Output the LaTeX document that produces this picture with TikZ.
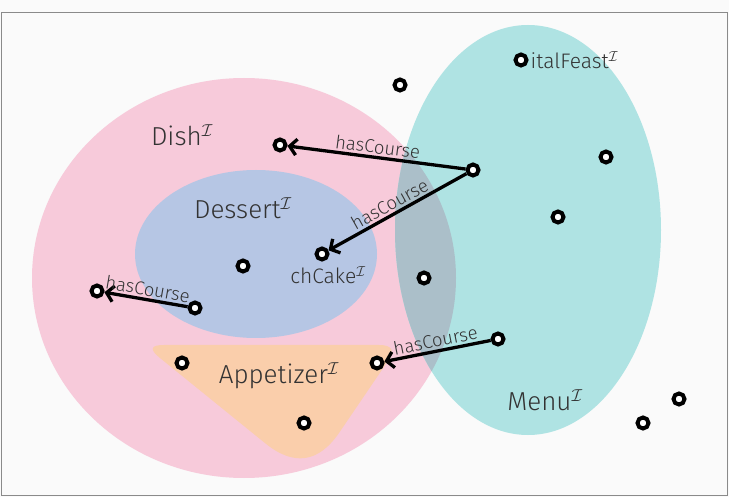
\documentclass[tikz,border=0pt]{standalone}
\usepackage{fontspec}
\setmainfont{Fira Sans Light}
\usetikzlibrary{arrows.meta,positioning}
\definecolor{bg}{HTML}{FAFAFA}
\definecolor{frame}{HTML}{8A8A8A}
\definecolor{dishc}{HTML}{F7CADA}
\definecolor{dessertc}{HTML}{B6C6E4}
\definecolor{appc}{HTML}{FACEAB}
\definecolor{menuc}{HTML}{AFE3E3}
\definecolor{mixc}{HTML}{ABBFC9}
\definecolor{txt}{HTML}{333333}
\tikzset{ind/.style={circle,draw=black,fill=white,line width=4pt,minimum size=11pt,inner sep=0pt},
  rel/.style={line width=3.3pt,-{Straight Barb[length=7pt,width=16pt]}},
  cls/.style={text=txt,font=\fontsize{26}{30}\selectfont},
  rlab/.style={text=txt,font=\fontsize{18.5}{22}\selectfont,inner sep=2pt}}

\begin{document}
\begin{tikzpicture}[x=1pt,y=-1pt]
\fill[bg] (0,0) rectangle (729,497);
\useasboundingbox (0,0) rectangle (729,497);
\draw[frame,line width=1.3pt] (1.5,12.5) rectangle (727.5,495.5);

% Concept extensions.
\fill[dishc] (244,278) ellipse [x radius=212,y radius=200];
\fill[dessertc] (256,254) ellipse [x radius=121,y radius=84];
\fill[appc] (164,345) -- (379,345) .. controls (392.3,345) and (395.2,350.5) .. (387.6,361.5)
  -- (339.2,432.7) .. controls (318.4,462.9) and (293.8,466.4) .. (265.3,443.3)
  -- (159.5,357.6) .. controls (149.2,349.2) and (150.7,345) .. cycle;
\fill[menuc] (528,230) ellipse [x radius=133,y radius=205];
\begin{scope}
  \clip (244,278) ellipse [x radius=212,y radius=200];
  \fill[mixc] (528,230) ellipse [x radius=133,y radius=205];
\end{scope}

% Individuals.
\foreach \n/\x/\y in {feast/521/60,a/400/85,b/606/157,src/473/170,c/558/217,
  dish/280/145,cake/322/254,d/243/266,e/424/278,f/97/291,g/195/308,
  h/498/339,app/377/363,i/182/363,j/304/423,k/643/423,l/679/399}
  \node[ind] (\n) at (\x,\y) {};

% Class names.
\node[cls] (dishl) at (182,135) {Dish$^{\mathcal{I}}$};
\node[cls] (dessertl) at (243,208) {Dessert$^{\mathcal{I}}$};
\node[cls] (appl) at (279,376) {Appetizer$^{\mathcal{I}}$};
\node[cls] (menul) at (545,400) {Menu$^{\mathcal{I}}$};
\node[rlab,font=\fontsize{21}{24}\selectfont,anchor=west] (feastl) at (feast.east) {italFeast$^{\mathcal{I}}$};
\node[rlab,font=\fontsize{21}{24}\selectfont] (cakel) at (328,275) {chCake$^{\mathcal{I}}$};

% hasCourse links.
\draw[rel] (src) -- node[rlab,sloped,above] (r1) {hasCourse} (dish);
\draw[rel] (src) -- node[rlab,sloped,above,pos=.52] (r2) {hasCourse} (cake);
\draw[rel] (g) -- node[rlab,sloped,above] (r3) {hasCourse} (f);
\draw[rel] (h) -- node[rlab,sloped,above] (r4) {hasCourse} (app);
\end{tikzpicture}
\end{document}
